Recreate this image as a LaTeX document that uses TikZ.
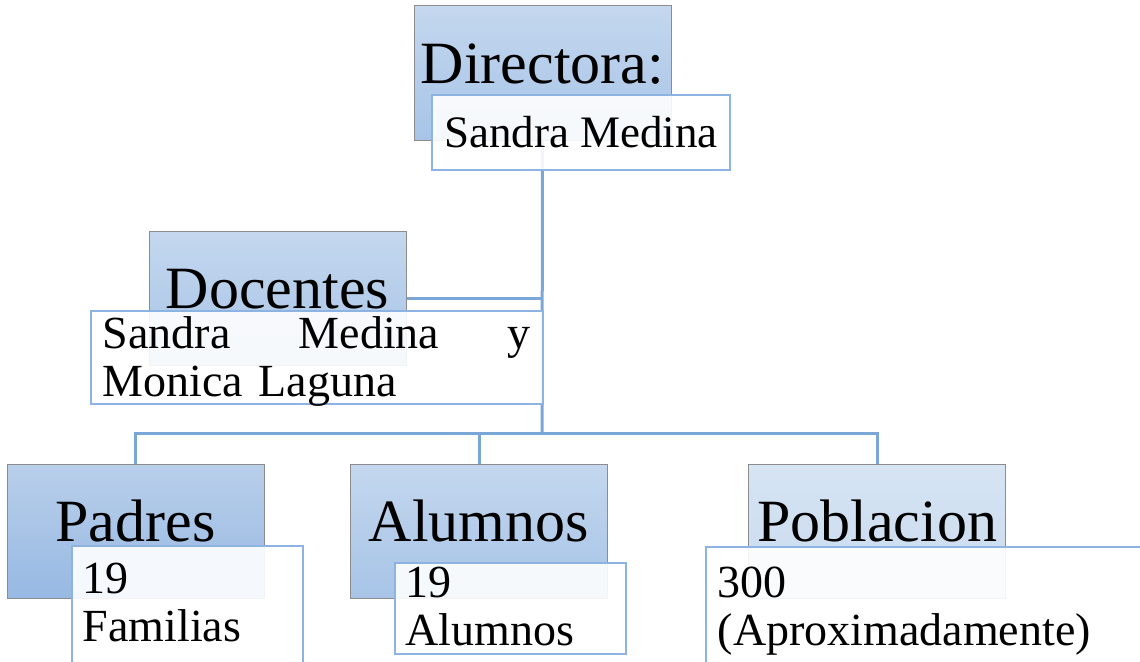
\documentclass[tikz,border=0pt]{standalone}
\usepackage{fontspec}
\setmainfont{Liberation Serif}
\usepackage{xcolor}
\usetikzlibrary{backgrounds}

\definecolor{headgray}{HTML}{8C8C8C}
\definecolor{subblue}{HTML}{8DB3E2}
\definecolor{linkblue}{HTML}{7BA7D8}
\definecolor{dirtop}{HTML}{C4D7EE}
\definecolor{dirbot}{HTML}{A7C4E7}
\definecolor{padtop}{HTML}{B9CFEA}
\definecolor{padbot}{HTML}{97B9E3}
\definecolor{pobtop}{HTML}{D6E4F3}
\definecolor{pobbot}{HTML}{C9DBEF}

\tikzset{
    head/.style={draw=headgray, line width=1pt, minimum width=257pt, minimum height=134pt,
        inner sep=0pt, text height=40pt, text depth=20pt, font=\fontsize{60}{66}\selectfont},
    sub/.style={draw=subblue, line width=1.5pt, fill=white, fill opacity=0.9, text opacity=1,
        align=left, font=\fontsize{46}{48}\selectfont},
    link/.style={draw=linkblue, line width=3pt}
}

\begin{document}
\begin{tikzpicture}[x=1pt, y=-1pt]
    \clip (0, 0) rectangle (1140, 661);

    \node[head, top color=dirtop, bottom color=dirbot] (dir) at (542.5, 73) {Directora:};
    \node[head, top color=dirtop, bottom color=dirbot] (doc) at (277.5, 298.5) {Docentes};
    \node[head, top color=padtop, bottom color=padbot] (pad) at (135.5, 531) {Padres};
    \node[head, top color=dirtop, bottom color=dirbot] (alu) at (479, 531) {Alumnos};
    \node[head, top color=pobtop, bottom color=pobbot] (pob) at (877, 531) {Poblacion};

    \node[sub, minimum width=298pt, minimum height=75pt, inner xsep=12pt, inner ysep=5pt,
        font=\fontsize{45}{48}\selectfont] (dirsub) at (581, 132.5) {Sandra Medina};
    \node[sub, anchor=north west, text width=428pt, inner xsep=12pt, inner ysep=5.6pt,
        text depth=50pt] (docsub) at (90, 310) {Sandra\hfill Medina\hfill y\\Monica Laguna};
    \node[sub, anchor=north west, text width=209pt, inner xsep=11pt, inner ysep=17pt,
        text depth=60pt] (padsub) at (71, 545) {19\\Familias};
    \node[sub, anchor=north west, text width=209pt, inner xsep=11pt, inner ysep=4pt,
        text depth=53pt] (alusub) at (394, 562) {19\\Alumnos};
    \node[sub, anchor=north west, text width=440pt, inner xsep=12pt, inner ysep=20pt,
        text depth=60pt] (pobsub) at (705, 546) {300\\(Aproximadamente)};

    \coordinate (hub) at (542, 433);

    \begin{scope}[on background layer]
        \draw[link] (dir.south) -- (hub);
        \draw[link] (doc.east) -- (doc.east -| hub);
        \draw[link] (pad.north) |- (hub) -| (pob.north);
        \draw[link] (alu.north) -- (alu.north |- hub);
    \end{scope}

\end{tikzpicture}
\end{document}
